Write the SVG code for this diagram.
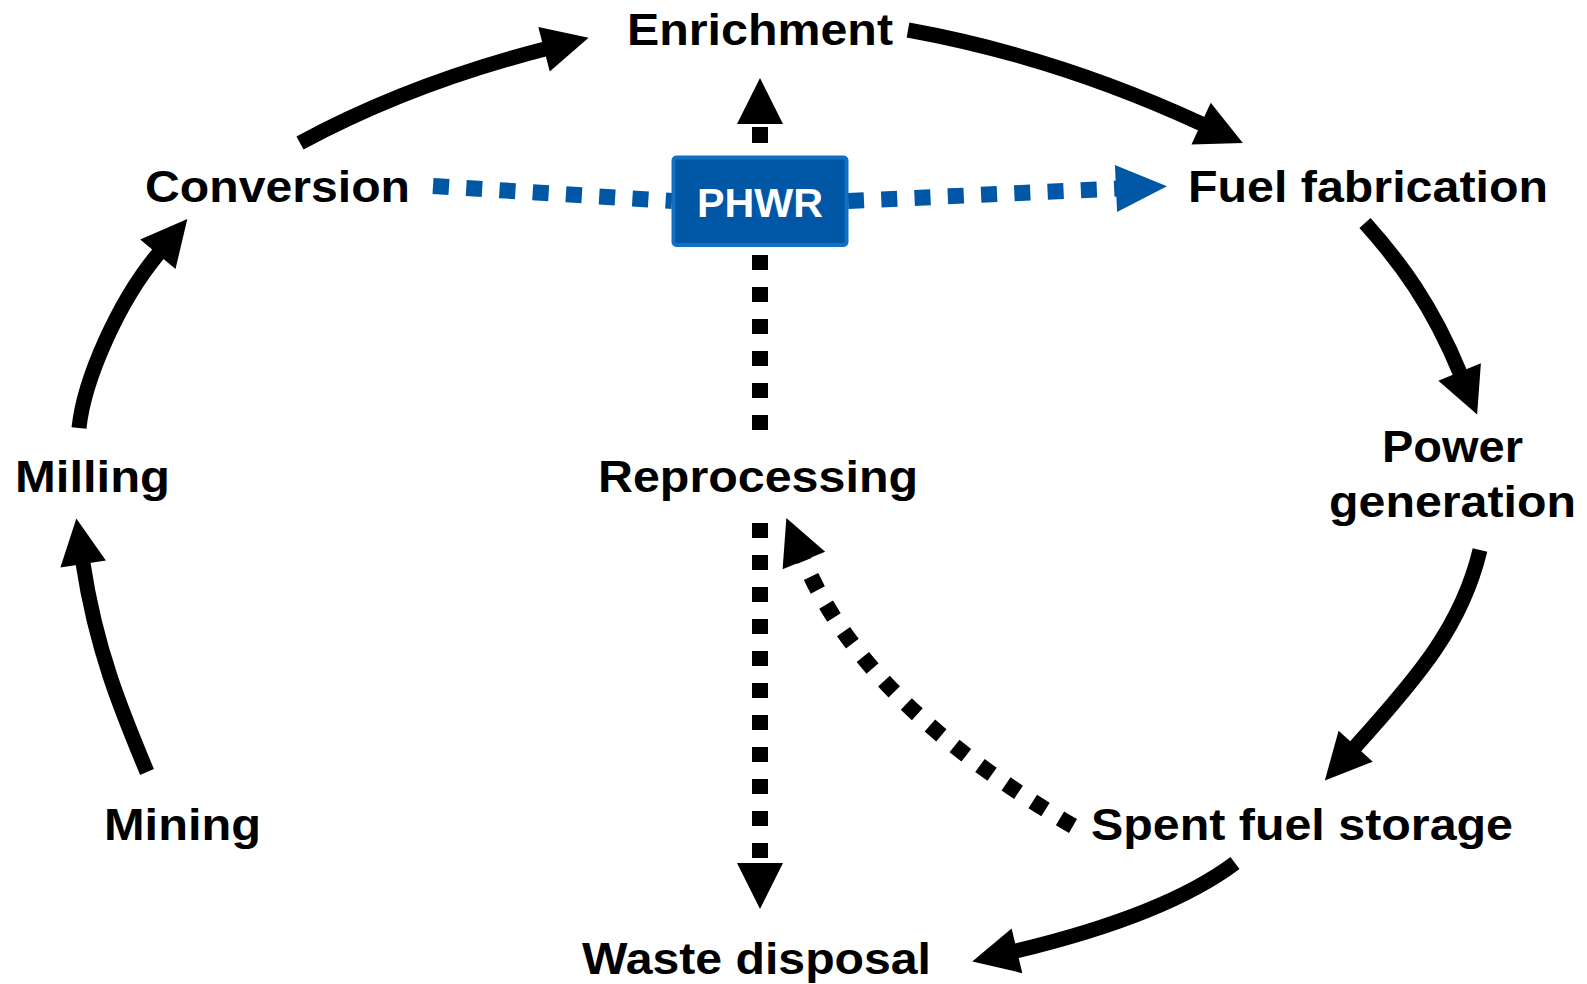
<svg xmlns="http://www.w3.org/2000/svg" width="1587" height="984" viewBox="0 0 1587 984">
<style>
.lbl{font-family:"Liberation Sans",Arial,sans-serif;font-weight:bold;font-size:45px;fill:#000}
.solid{fill:none;stroke:#000;stroke-width:15;stroke-linecap:butt}
.dot{fill:none;stroke:#000;stroke-width:16;stroke-linecap:butt;stroke-dasharray:15 17}
.blue{fill:none;stroke:#0057A6;stroke-width:16;stroke-linecap:butt;stroke-dasharray:16 17.3}
</style>
<defs>
<marker id="ah" markerUnits="userSpaceOnUse" viewBox="0 -25 48 50" markerWidth="48" markerHeight="50" refX="1" refY="0" orient="auto" overflow="visible"><path d="M0,-23 L46,0 L0,23 Z" fill="#000"/></marker>
<marker id="ahb" markerUnits="userSpaceOnUse" viewBox="0 -25 52 50" markerWidth="52" markerHeight="50" refX="1" refY="0" orient="auto" overflow="visible"><path d="M0,-23.5 L51,0 L0,23.5 Z" fill="#0057A6"/></marker>
</defs>
<rect width="1587" height="984" fill="#fff"/>
<g id="connectors">
<path class="solid" d="M147,772 C122,712 96,650 83,563" marker-end="url(#ah)"/>
<path class="solid" d="M79,428 C84,380 118,302 158.5,253.5" marker-end="url(#ah)"/>
<path class="solid" d="M300,143 Q409,84 545,49" marker-end="url(#ah)"/>
<path class="solid" d="M908,30 Q1057,57 1202,124" marker-end="url(#ah)"/>
<path class="solid" d="M1365,223 C1400,262 1432,305 1460,373" marker-end="url(#ah)"/>
<path class="solid" d="M1480,550 C1462,625 1420,675 1355,747" marker-end="url(#ah)"/>
<path class="solid" d="M1235,863 Q1166,915 1016,951" marker-end="url(#ah)"/>
<path class="blue" d="M433,186 L672,201"/>
<path class="blue" d="M848,201 L1117,188.5" marker-end="url(#ahb)"/>
<path fill="none" stroke="#000" stroke-width="16" stroke-dasharray="16 100" d="M760,143 L760,123" marker-end="url(#ah)"/>
<path class="dot" d="M760,255 L760,430"/>
<path class="dot" d="M760,523 L760,864" marker-end="url(#ah)"/>
<path class="dot" d="M1073,826 Q863,704 803.5,559.5" marker-end="url(#ah)"/>
</g>
<g id="node-phwr">
<rect x="673.5" y="157.5" width="173" height="87.5" rx="3" fill="#0057A6" stroke="#1170C4" stroke-width="4"/>
<text x="697" y="217" font-family="Liberation Sans,Arial,sans-serif" font-weight="bold" font-size="40" fill="#fff" textLength="126" lengthAdjust="spacingAndGlyphs">PHWR</text>
</g>
<g id="node-enrichment"><text class="lbl" x="627" y="45" textLength="266" lengthAdjust="spacingAndGlyphs">Enrichment</text></g>
<g id="node-conversion"><text class="lbl" x="145" y="202" textLength="265" lengthAdjust="spacingAndGlyphs">Conversion</text></g>
<g id="node-fuel-fabrication"><text class="lbl" x="1188" y="202" textLength="360" lengthAdjust="spacingAndGlyphs">Fuel fabrication</text></g>
<g id="node-power-generation">
<text class="lbl" x="1382" y="462" textLength="141" lengthAdjust="spacingAndGlyphs">Power</text>
<text class="lbl" x="1329" y="517" textLength="247" lengthAdjust="spacingAndGlyphs">generation</text>
</g>
<g id="node-milling"><text class="lbl" x="15" y="492" textLength="155" lengthAdjust="spacingAndGlyphs">Milling</text></g>
<g id="node-reprocessing"><text class="lbl" x="598" y="492" textLength="320" lengthAdjust="spacingAndGlyphs">Reprocessing</text></g>
<g id="node-mining"><text class="lbl" x="104" y="840" textLength="157" lengthAdjust="spacingAndGlyphs">Mining</text></g>
<g id="node-spent-fuel-storage"><text class="lbl" x="1091" y="840" textLength="422" lengthAdjust="spacingAndGlyphs">Spent fuel storage</text></g>
<g id="node-waste-disposal"><text class="lbl" x="582" y="974" textLength="349" lengthAdjust="spacingAndGlyphs">Waste disposal</text></g>
</svg>
